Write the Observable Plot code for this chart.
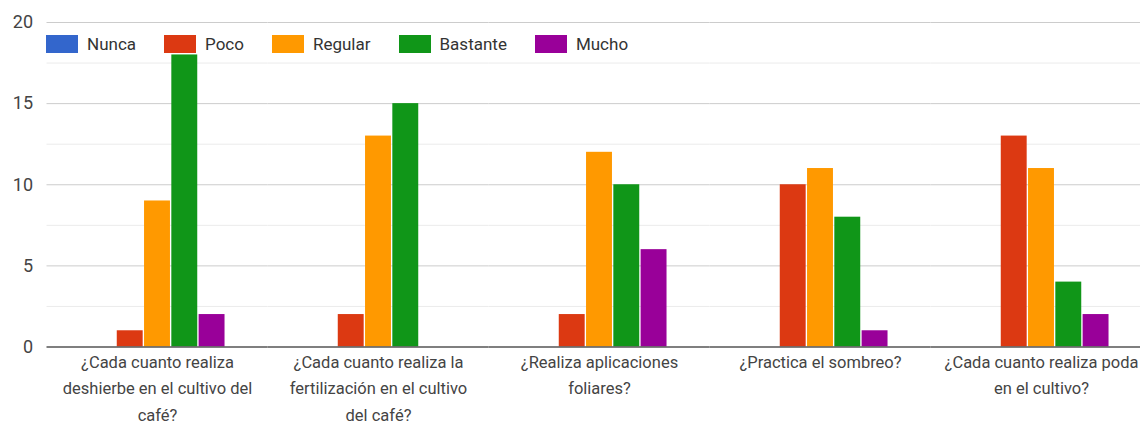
<!DOCTYPE html>
<html>
<head>
<meta charset="utf-8">
<script src="https://cdn.jsdelivr.net/npm/d3@7"></script>
<script src="https://cdn.jsdelivr.net/npm/@observablehq/plot@0.6"></script>
<style>
  html, body { margin: 0; padding: 0; background: #fff; overflow: hidden; }
  #wrap { position: relative; width: 1140px; height: 424px; }
  #legend { position: absolute; left: 46px; top: 34px; display: flex; align-items: center;
            font-family: Roboto, sans-serif; font-size: 17px; color: #333; }
  #legend .item { display: flex; align-items: center; margin-right: 28px; }
  #legend .sw { width: 32px; height: 18px; margin-right: 9px; }
</style>
</head>
<body>
<div id="wrap"><div id="legend"></div></div>
<script>
const questions = [
  "¿Cada cuanto realiza deshierbe en el cultivo del café?",
  "¿Cada cuanto realiza la fertilización en el cultivo del café?",
  "¿Realiza aplicaciones foliares?",
  "¿Practica el sombreo?",
  "¿Cada cuanto realiza poda en el cultivo?"
];
const questionLabels = [
  "¿Cada cuanto realiza\ndeshierbe en el cultivo del\ncafé?",
  "¿Cada cuanto realiza la\nfertilización en el cultivo\ndel café?",
  "¿Realiza aplicaciones\nfoliares?",
  "¿Practica el sombreo?",
  "¿Cada cuanto realiza poda\nen el cultivo?"
];
const series = ["Nunca", "Poco", "Regular", "Bastante", "Mucho"];
const colors = ["#3366CC", "#DC3912", "#FF9900", "#109618", "#990099"];
const nunca    = [0, 0, 0, 0, 0];
const poco     = [1, 2, 2, 10, 13];
const regular  = [9, 13, 12, 11, 11];
const bastante = [18, 15, 10, 8, 4];
const mucho    = [2, 0, 6, 1, 2];
const yTicks = [0, 5, 10, 15, 20];
const yMinor = [2.5, 7.5, 12.5, 17.5];

const valuesBySeries = [nunca, poco, regular, bastante, mucho];
const data = [];
questions.forEach((q, i) => series.forEach((s, j) => data.push({question: q, series: s, value: valuesBySeries[j][i]})));

const chart = Plot.plot({
  width: 1140,
  height: 424,
  marginTop: 22,
  marginBottom: 77.5,
  marginLeft: 46,
  marginRight: 0,
  style: {fontFamily: "Roboto, sans-serif", fontSize: "17px", color: "#444", background: "#fff"},
  fx: {domain: questions, range: [46.5, 1151.5], padding: 0, round: false, label: null},
  x: {domain: series, paddingInner: 0.05, paddingOuter: 1.575, round: false, axis: null},
  y: {domain: [0, 20], label: null},
  color: {domain: series, range: colors},
  marks: [
    Plot.ruleY(yMinor, {stroke: "#ebebeb", strokeWidth: 1}),
    Plot.ruleY(yTicks.slice(1), {stroke: "#cccccc", strokeWidth: 1}),
    Plot.barY(data, {fx: "question", x: "series", y: "value", fill: "series"}),
    Plot.ruleY([0], {stroke: "#555", strokeWidth: 1.5}),
    Plot.axisY({ticks: yTicks, tickSize: 0, tickPadding: 14, fontSize: 18, fill: "#444", label: null}),
    Plot.axisFx({anchor: "bottom", tickSize: 0, tickPadding: 2, fontSize: 16.5, fill: "#444", lineHeight: 1.6, lineWidth: Infinity,
      tickFormat: q => questionLabels[questions.indexOf(q)], label: null})
  ]
});
document.getElementById("wrap").prepend(chart);

const legend = document.getElementById("legend");
series.forEach((s, i) => {
  const item = document.createElement("div");
  item.className = "item";
  const sw = document.createElement("div");
  sw.className = "sw";
  sw.style.background = colors[i];
  const t = document.createElement("span");
  t.textContent = s;
  item.appendChild(sw);
  item.appendChild(t);
  legend.appendChild(item);
});
</script>
</body>
</html>
